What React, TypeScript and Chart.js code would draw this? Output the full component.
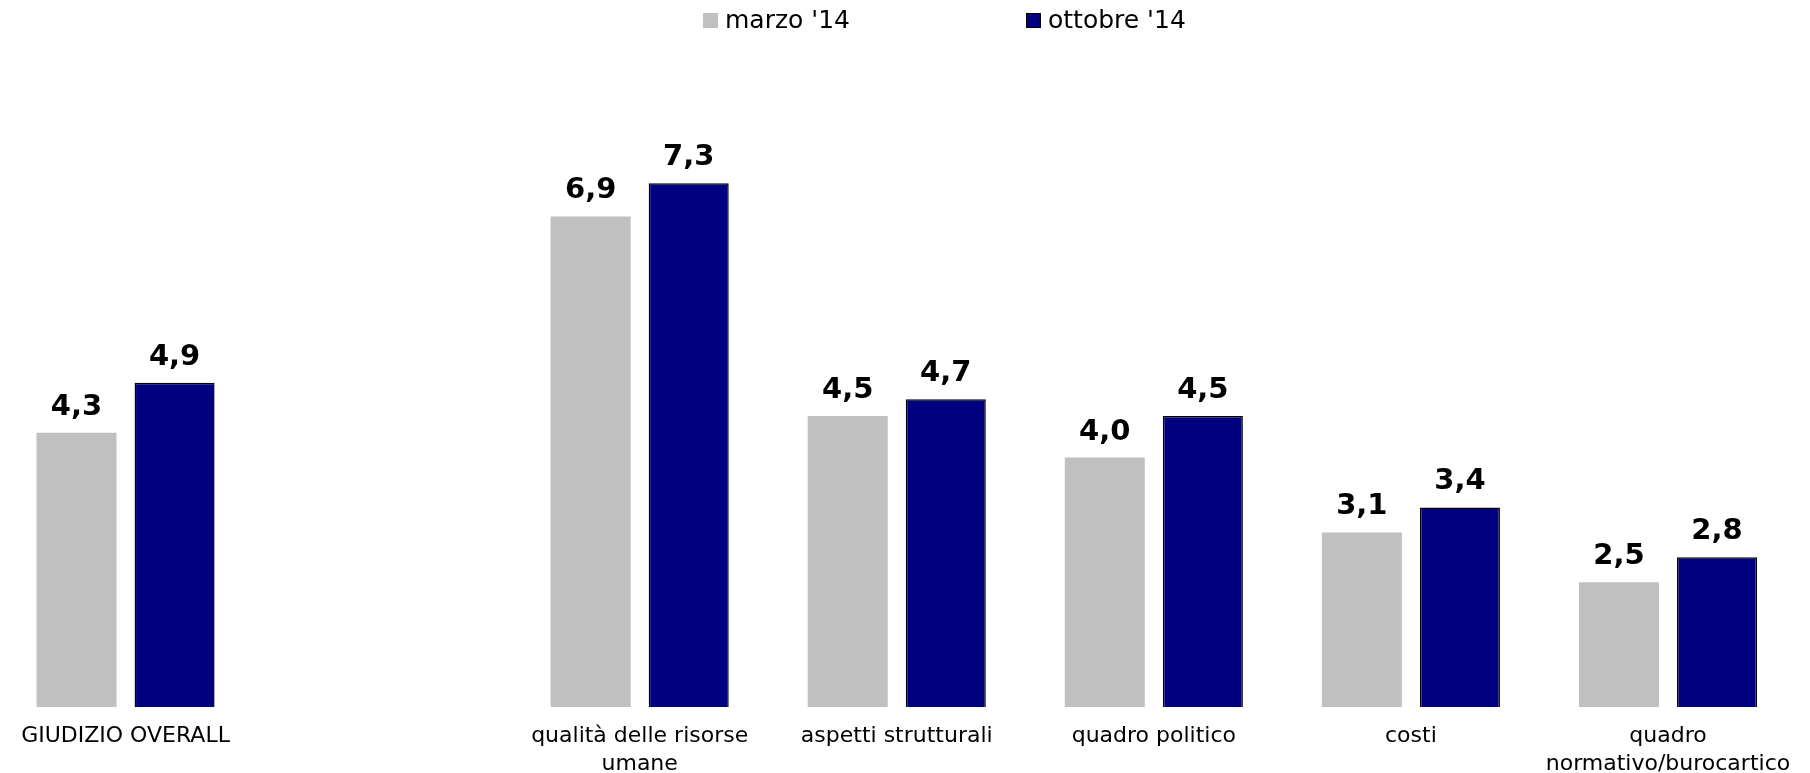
import React, { useEffect, useRef } from "react";
import { Chart, registerables } from "chart.js";

Chart.register(...registerables);

const categories: (string | string[])[] = [
  "GIUDIZIO OVERALL",
  "",
  ["qualità delle risorse", "umane"],
  "aspetti strutturali",
  "quadro politico",
  "costi",
  ["quadro", "normativo/burocartico"],
];
const seriesNames = ["marzo '14", "ottobre '14"];
const marzo: (number | null)[] = [4.3, null, 6.9, 4.5, 4.0, 3.1, 2.5];
const ottobre: (number | null)[] = [4.9, null, 7.3, 4.7, 4.5, 3.4, 2.8];

const GRAY = "#C0C0C0";
const NAVY = "#000080";
const FONT = '"DejaVu Sans", Verdana, sans-serif';

const valueLabels = {
  id: "valueLabels",
  afterDatasetsDraw(chart: any) {
    const ctx = chart.ctx;
    chart.data.datasets.forEach((ds: any, i: number) => {
      const meta = chart.getDatasetMeta(i);
      meta.data.forEach((bar: any, j: number) => {
        const v = ds.data[j];
        if (v == null) return;
        ctx.save();
        ctx.font = `bold 29px ${FONT}`;
        ctx.fillStyle = "#000";
        ctx.textAlign = "center";
        ctx.textBaseline = "alphabetic";
        ctx.fillText(v.toFixed(1).replace(".", ","), bar.x, bar.y - 18);
        ctx.restore();
      });
    });
  },
};

const LEGEND_START_X = 706; // canvas coords (canvas offset -3)
const LEGEND_STEP = 323;
const LEGEND_Y = 13;
const LEGEND_BOX = 15;

const topLegend = {
  id: "topLegend",
  afterDraw(chart: any) {
    const ctx = chart.ctx;
    chart.data.datasets.forEach((ds: any, i: number) => {
      const x = LEGEND_START_X + i * LEGEND_STEP;
      ctx.save();
      ctx.fillStyle = ds.backgroundColor;
      ctx.fillRect(x, LEGEND_Y, LEGEND_BOX, LEGEND_BOX);
      if (ds.borderWidth) {
        ctx.strokeStyle = ds.borderColor;
        ctx.lineWidth = 1;
        ctx.strokeRect(x + 0.5, LEGEND_Y + 0.5, LEGEND_BOX - 1, LEGEND_BOX - 1);
      }
      ctx.fillStyle = "#000";
      ctx.font = `25px ${FONT}`;
      ctx.textAlign = "left";
      ctx.textBaseline = "middle";
      ctx.fillText(ds.label, x + LEGEND_BOX + 7, LEGEND_Y + LEGEND_BOX / 2 + 1);
      ctx.restore();
    });
  },
};

const CANVAS_H = 794;

export default function App() {
  const ref = useRef<HTMLCanvasElement>(null);
  useEffect(() => {
    if (!ref.current) return;
    const chart = new Chart(ref.current, {
      type: "bar",
      data: {
        labels: categories,
        datasets: [
          {
            label: seriesNames[0],
            data: marzo,
            backgroundColor: GRAY,
            borderWidth: 0,
            categoryPercentage: 0.763,
            barPercentage: 0.816,
          },
          {
            label: seriesNames[1],
            data: ottobre,
            backgroundColor: NAVY,
            borderColor: "#000",
            borderWidth: 1.5,
            categoryPercentage: 0.763,
            barPercentage: 0.816,
          },
        ] as any,
      },
      options: {
        animation: false,
        responsive: false,
        maintainAspectRatio: false,
        layout: { padding: { top: 125, right: 13.5, left: 0, bottom: 0 } },
        plugins: {
          legend: { display: false },
          tooltip: { enabled: false },
        },
        scales: {
          x: {
            grid: { display: false, drawTicks: false },
            border: { display: false },
            ticks: {
              autoSkip: false,
              maxRotation: 0,
              minRotation: 0,
              padding: 16,
              color: "#000",
              font: { family: FONT, size: 22, lineHeight: 1.25 },
            },
          },
          y: {
            display: false,
            min: 1,
            max: 8,
          },
        },
      },
      plugins: [valueLabels, topLegend],
    });
    return () => chart.destroy();
  }, []);
  return (
    <div style={{ position: "absolute", left: -3, top: 0, width: 1813, height: 773, overflow: "hidden" }}>
      <canvas ref={ref} width={1813} height={CANVAS_H} style={{ display: "block" }} />
    </div>
  );
}
